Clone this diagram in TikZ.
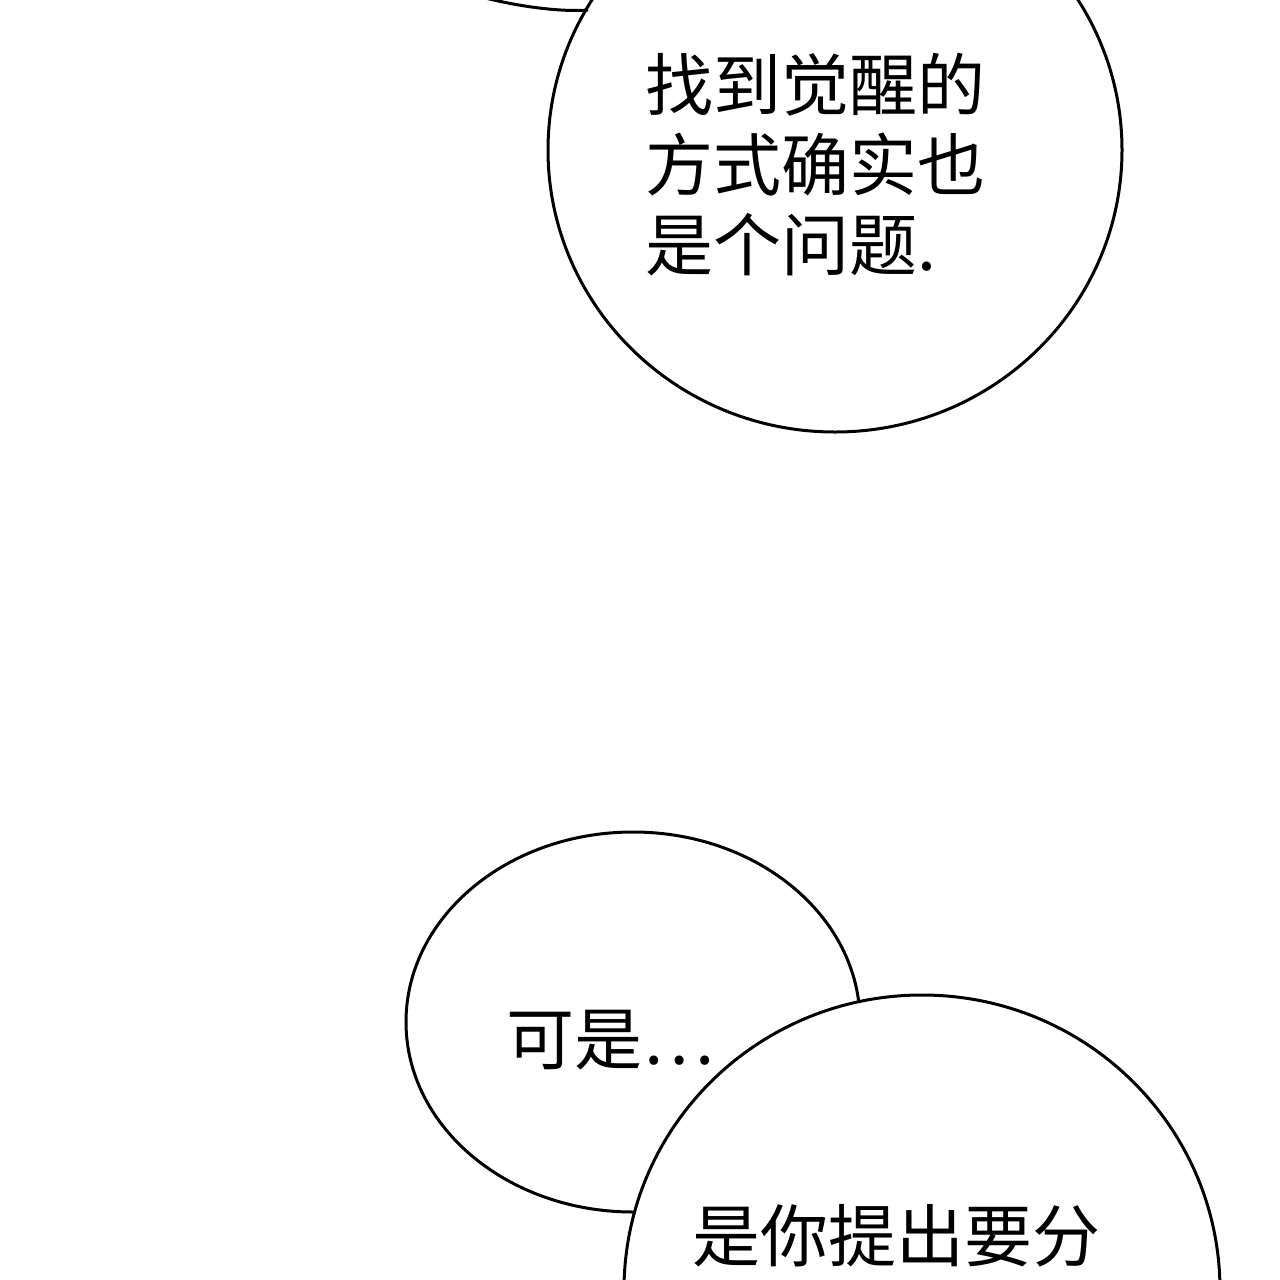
\documentclass[tikz,border=0pt]{standalone}
\usetikzlibrary{shapes.geometric}
\usepackage{fontspec}
\newfontfamily\cjk{Noto Sans CJK SC}
\begin{document}
\begin{tikzpicture}[x=1pt,y=-1pt,
  bubble/.style={draw=black,line width=3pt,fill=white},
  txt/.style={font=\cjk\fontsize{68}{80}\selectfont,anchor=west,inner sep=0pt,align=left}]
\useasboundingbox (0,0) rectangle (1280,1280);
\clip (0,0) rectangle (1280,1280);
\fill[white] (0,0) rectangle (1280,1280);
\node[bubble,ellipse,minimum width=574,minimum height=564,inner sep=0pt] (b1) at (835,150) {};
\coordinate (tailA) at (470,-6);
\coordinate (tailB) at (588,10);
\draw[line width=3pt] (tailA) .. controls (520,8) and (565,12) .. (tailB);
\node[txt] (t1) at (645,165) {找到觉醒的\\方式确实也\\是个问题.};
\node[bubble,ellipse,minimum width=454,minimum height=380,inner sep=0pt] (b2) at (633,1022) {};
\node[txt] (t2) at (506,1040) {可是…};
\node[bubble,ellipse,minimum width=596,minimum height=590,inner sep=0pt] (b3) at (922,1290) {};
\node[txt] (t3) at (692,1236) {是你提出要分};
\end{tikzpicture}
\end{document}
